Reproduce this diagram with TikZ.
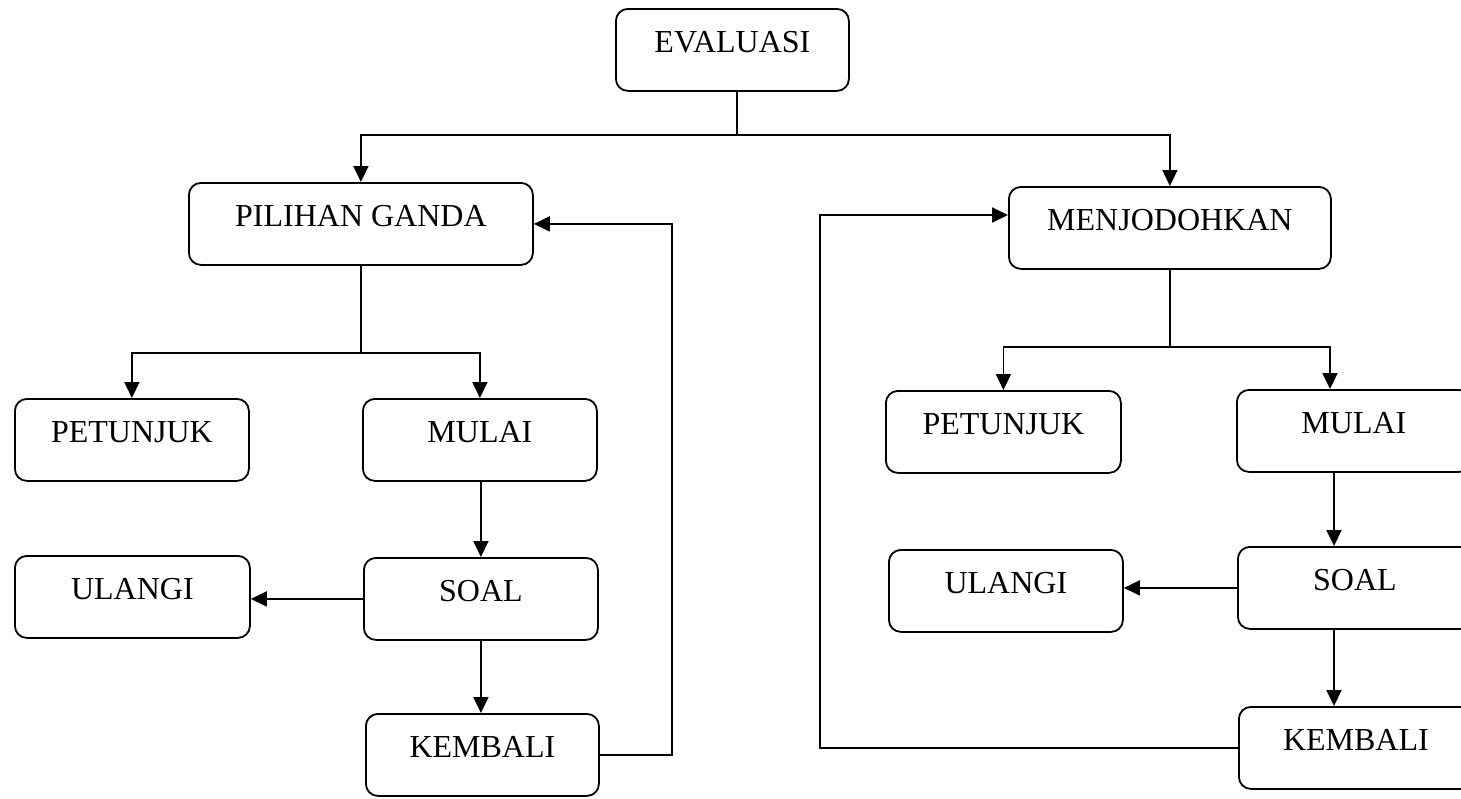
\documentclass[tikz,border=0pt]{standalone}
\usepackage{fontspec}
\setmainfont{Liberation Serif}
\usetikzlibrary{arrows.meta}
\begin{document}
\begin{tikzpicture}[x=0.5pt,y=-0.5pt,
  box/.style={draw, line width=0.9pt, rounded corners=6pt, anchor=north west,
    inner xsep=0pt, inner ysep=0pt, text height=22pt, text depth=19pt,
    font=\fontsize{16}{18}\selectfont},
  conn/.style={line width=0.9pt},
  arr/.style={conn, -{Triangle[length=8pt,width=7.5pt]}}]
\clip (0,0) rectangle (1461,798);
\useasboundingbox (0,0) rectangle (1461,798);
% nodes
\node[box, minimum width=116.5pt] (eval) at (615,8) {EVALUASI};
\node[box, minimum width=172pt] (pg) at (188,182) {PILIHAN GANDA};
\node[box, minimum width=161pt] (mj) at (1008,186) {MENJODOHKAN};
\node[box, minimum width=117pt] (pet1) at (14,398) {PETUNJUK};
\node[box, minimum width=117pt] (mul1) at (362,398) {MULAI};
\node[box, minimum width=117pt] (soal1) at (363,557) {SOAL};
\node[box, minimum width=117.5pt] (ul1) at (14,555) {ULANGI};
\node[box, minimum width=116.5pt] (kem1) at (365,713) {KEMBALI};
\node[box, minimum width=117.5pt] (pet2) at (885,390) {PETUNJUK};
\node[box, minimum width=117pt] (mul2) at (1236,389) {MULAI};
\node[box, minimum width=117pt] (soal2) at (1237,546) {SOAL};
\node[box, minimum width=117pt] (ul2) at (888,549) {ULANGI};
\node[box, minimum width=117pt] (kem2) at (1238,706) {KEMBALI};
% helper coordinates
\coordinate (j0) at (737,135);
\coordinate (h1) at (0,353);
\coordinate (h2) at (0,347);
\coordinate (a2) at (1330,0);
\coordinate (a3) at (1334,0);
\coordinate (r1) at (672,0);
\coordinate (l2) at (820,215);
% connectors left
\draw[conn] (eval.south -| j0) -- (j0);
\draw[arr] (j0) -| (pg.north);
\draw[arr] (j0) -| (mj.north);
\draw[conn] (pg.south) -- (pg.south |- h1) coordinate (j1);
\draw[arr] (j1) -| (pet1.north);
\draw[arr] (j1) -| (mul1.north);
\draw[arr] (mul1.south -| soal1.north) -- (soal1.north);
\draw[arr] (soal1.west) -- (ul1.east |- soal1.west);
\draw[arr] (soal1.south) -- (soal1.south |- kem1.north);
\draw[arr] (kem1.east) -- (kem1.east -| r1) |- (pg.east);
% connectors right
\draw[conn] (mj.south) -- (mj.south |- h2) coordinate (j2);
\draw[arr] (j2) -| (pet2.north);
\draw[arr] (j2) -| (a2 |- mul2.north);
\draw[arr] (a3 |- mul2.south) -- (a3 |- soal2.north);
\draw[arr] (soal2.west) -- (ul2.east |- soal2.west);
\draw[arr] (a3 |- soal2.south) -- (a3 |- kem2.north);
\draw[arr] (kem2.west) -| (l2) -- (l2 -| mj.west);
\end{tikzpicture}
\end{document}
